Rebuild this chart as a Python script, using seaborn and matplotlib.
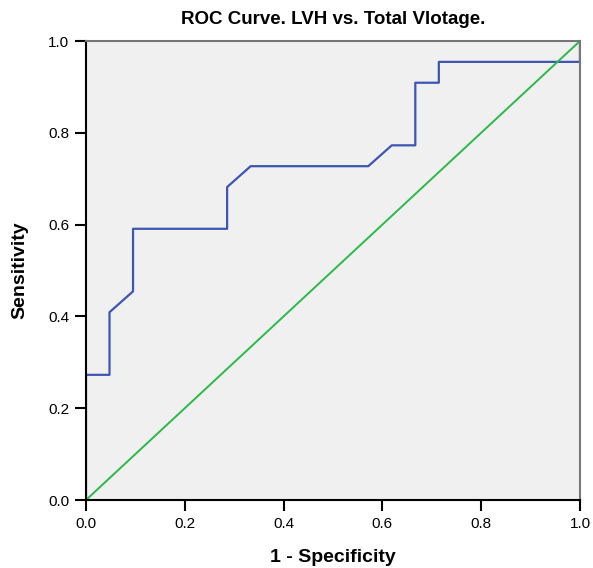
import numpy as np
import pandas as pd
import matplotlib
matplotlib.use('Agg')
import matplotlib.pyplot as plt
import seaborn as sns

# ROC points (21 negatives, 22 positives)
fpr = [0, 0, 1/21, 1/21, 2/21, 2/21, 6/21, 6/21, 7/21, 12/21, 13/21, 14/21, 14/21, 15/21, 15/21, 1.0, 1.0]
tpr = [0, 6/22, 6/22, 9/22, 10/22, 13/22, 13/22, 15/22, 16/22, 16/22, 17/22, 17/22, 20/22, 20/22, 21/22, 21/22, 1.0]
ref_x = [0.0, 1.0]
ref_y = [0.0, 1.0]
ticks = [0.0, 0.2, 0.4, 0.6, 0.8, 1.0]

sns.set_style('white')
plt.rcParams['font.family'] = ['Liberation Sans', 'DejaVu Sans']
plt.rcParams['text.color'] = 'black'
plt.rcParams['axes.labelcolor'] = 'black'
plt.rcParams['xtick.color'] = 'black'
plt.rcParams['ytick.color'] = 'black'

roc = pd.DataFrame({'fpr': fpr, 'tpr': tpr})
ref = pd.DataFrame({'x': ref_x, 'y': ref_y})

fig = plt.figure(figsize=(5.93, 5.68), dpi=100)
ax = fig.add_axes([0.145, 0.1197, 0.833, 0.8081])
ax.set_facecolor('#f0f0f0')

sns.lineplot(data=roc, x='fpr', y='tpr', sort=False, estimator=None, color='#3d55b3', linewidth=1.6, ax=ax)
sns.lineplot(data=ref, x='x', y='y', sort=False, estimator=None, color='#2cb84a', linewidth=1.4, ax=ax)

ax.set_xlim(0, 1)
ax.set_ylim(0, 1)
ax.set_xticks(ticks)
ax.set_yticks(ticks)
ax.set_xticklabels([f'{t:.1f}' for t in ticks], fontsize=11)
ax.set_yticklabels([f'{t:.1f}' for t in ticks], fontsize=11)
ax.tick_params(direction='out', length=8, width=1.5, color='black', pad=4, left=True, bottom=True)

for s in ['left', 'bottom']:
    ax.spines[s].set_color('black')
    ax.spines[s].set_linewidth(1.5)
for s in ['top', 'right']:
    ax.spines[s].set_color('#777777')
    ax.spines[s].set_linewidth(1.5)

ax.set_xlabel('1 - Specificity', fontsize=14, fontweight='bold', labelpad=13)
ax.set_ylabel('Sensitivity', fontsize=14, fontweight='bold', labelpad=14)
ax.set_title('ROC Curve. LVH vs. Total Vlotage.', fontsize=13.5, fontweight='bold', pad=12)

fig.savefig('out.png', dpi=100)
